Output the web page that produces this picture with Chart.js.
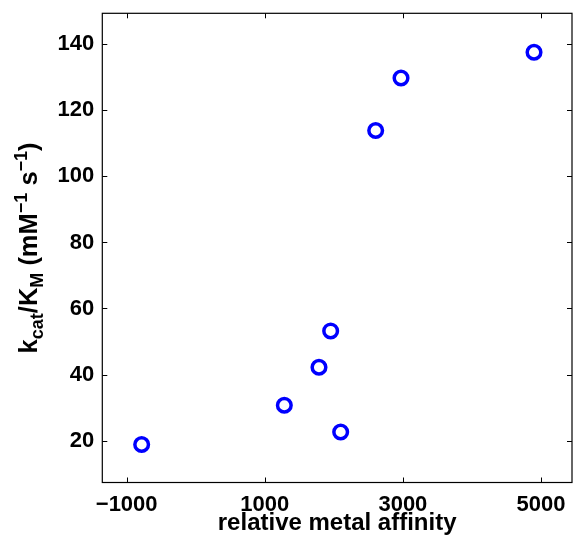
<!DOCTYPE html>
<html>
<head>
<meta charset="utf-8">
<script src="https://cdn.jsdelivr.net/npm/chart.js@4.4.1/dist/chart.umd.min.js"></script>
<style>
  html, body { margin: 0; padding: 0; background: #ffffff; }
  #wrap { width: 573px; height: 540px; position: relative; }
</style>
</head>
<body>
<div id="wrap"><canvas id="c" width="573" height="540"></canvas></div>
<script>
// ---- data ----
const affinity = [-783, 1283, 2099, 1954, 1785, 2973, 2606, 4899];
const kcatKm   = [18.8, 30.7, 22.6, 53.2, 42.2, 129.8, 113.9, 137.6];
const xTickValues = [-1000, 1000, 3000, 5000];
const yTickValues = [20, 40, 60, 80, 100, 120, 140];
const xTitle = 'relative metal affinity';
// y title pieces: [text, kind] kind: n = normal, b = subscript, p = superscript
const yTitleParts = [['k','n'],['cat','b'],['/K','n'],['M','b'],[' (mM','n'],['\u22121','p'],[' s','n'],['\u22121','p'],[')','n']];

const FONT = '"Liberation Sans", Arial, Helvetica, sans-serif';

const pairs = affinity.map((x, i) => ({x: x, y: kcatKm[i]}));

const PLOT_RIGHT = 572;

const framePlugin = {
  id: 'frame',
  afterLayout(chart) {
    const a = chart.chartArea;
    const xs = chart.scales.x;
    a.right = PLOT_RIGHT;
    a.width = a.right - a.left;
    xs.right = PLOT_RIGHT;
    xs.width = xs.right - xs.left;
    xs.configure();
  },
  afterDraw(chart) {
    const ctx = chart.ctx;
    const a = chart.chartArea;
    const xs = chart.scales.x, ys = chart.scales.y;
    const tl = 5;
    ctx.save();
    ctx.strokeStyle = '#000';
    ctx.lineWidth = 1.2;
    ctx.strokeRect(a.left, a.top, a.right - a.left, a.bottom - a.top);
    ctx.beginPath();
    xTickValues.forEach(v => {
      const px = Math.round(xs.getPixelForValue(v)) + 0.5;
      ctx.moveTo(px, a.bottom); ctx.lineTo(px, a.bottom - tl);
      ctx.moveTo(px, a.top); ctx.lineTo(px, a.top + tl);
    });
    yTickValues.forEach(v => {
      const py = Math.round(ys.getPixelForValue(v)) + 0.5;
      ctx.moveTo(a.left, py); ctx.lineTo(a.left + tl, py);
      ctx.moveTo(a.right, py); ctx.lineTo(a.right - tl, py);
    });
    ctx.lineWidth = 1;
    ctx.stroke();

    // y axis title with sub/superscripts
    const mainF = 'bold 25.5px ' + FONT;
    const smallF = 'bold 18px ' + FONT;
    let total = 0;
    const widths = yTitleParts.map(p => {
      ctx.font = p[1] === 'n' ? mainF : smallF;
      const w = ctx.measureText(p[0]).width;
      total += w;
      return w;
    });
    const cy = (a.top + a.bottom) / 2;
    const baseX = 37;
    ctx.translate(baseX, cy);
    ctx.rotate(-Math.PI / 2);
    ctx.fillStyle = '#000';
    ctx.textBaseline = 'alphabetic';
    ctx.textAlign = 'left';
    let x = -total / 2;
    yTitleParts.forEach((p, i) => {
      ctx.font = p[1] === 'n' ? mainF : smallF;
      const dy = p[1] === 'b' ? 6 : (p[1] === 'p' ? -10.5 : 0);
      ctx.fillText(p[0], x, dy);
      x += widths[i];
    });
    ctx.restore();
  }
};

new Chart(document.getElementById('c'), {
  type: 'scatter',
  data: {
    datasets: [{
      data: pairs,
      showLine: false,
      pointStyle: 'circle',
      pointRadius: 6.8,
      pointHoverRadius: 6.8,
      borderWidth: 3.5,
      borderColor: '#0000ff',
      backgroundColor: 'rgba(0,0,0,0)'
    }]
  },
  options: {
    responsive: false,
    animation: false,
    events: [],
    layout: { padding: { top: 13.3, right: 1, left: 0, bottom: 0 } },
    plugins: { legend: { display: false }, tooltip: { enabled: false } },
    scales: {
      x: {
        type: 'linear',
        min: -1353, max: 5449,
        grid: { display: false, drawTicks: false },
        border: { display: false },
        afterBuildTicks(s) { s.ticks = xTickValues.map(v => ({value: v})); },
        afterFit(s) { s.height = 57.5; s.paddingLeft = 0; s.paddingRight = 0; },
        ticks: {
          padding: 9,
          color: '#000',
          font: { family: FONT, size: 22, weight: 'bold' },
          maxRotation: 0,
          callback: v => (v < 0 ? '\u2212' + Math.abs(v) : String(v))
        },
        title: {
          display: true, text: xTitle, color: '#000',
          font: { family: FONT, size: 24, weight: 'bold' },
          padding: { top: 0, bottom: 2 }
        }
      },
      y: {
        type: 'linear',
        min: 7.3, max: 149.4,
        grid: { display: false, drawTicks: false },
        border: { display: false },
        afterBuildTicks(s) { s.ticks = yTickValues.map(v => ({value: v})); },
        afterFit(s) { s.width = 102.3; s.paddingTop = 0; s.paddingBottom = 0; },
        ticks: {
          padding: 8,
          color: '#000',
          font: { family: FONT, size: 22, weight: 'bold' },
          callback: v => String(v)
        }
      }
    }
  },
  plugins: [framePlugin]
});
</script>
</body>
</html>
